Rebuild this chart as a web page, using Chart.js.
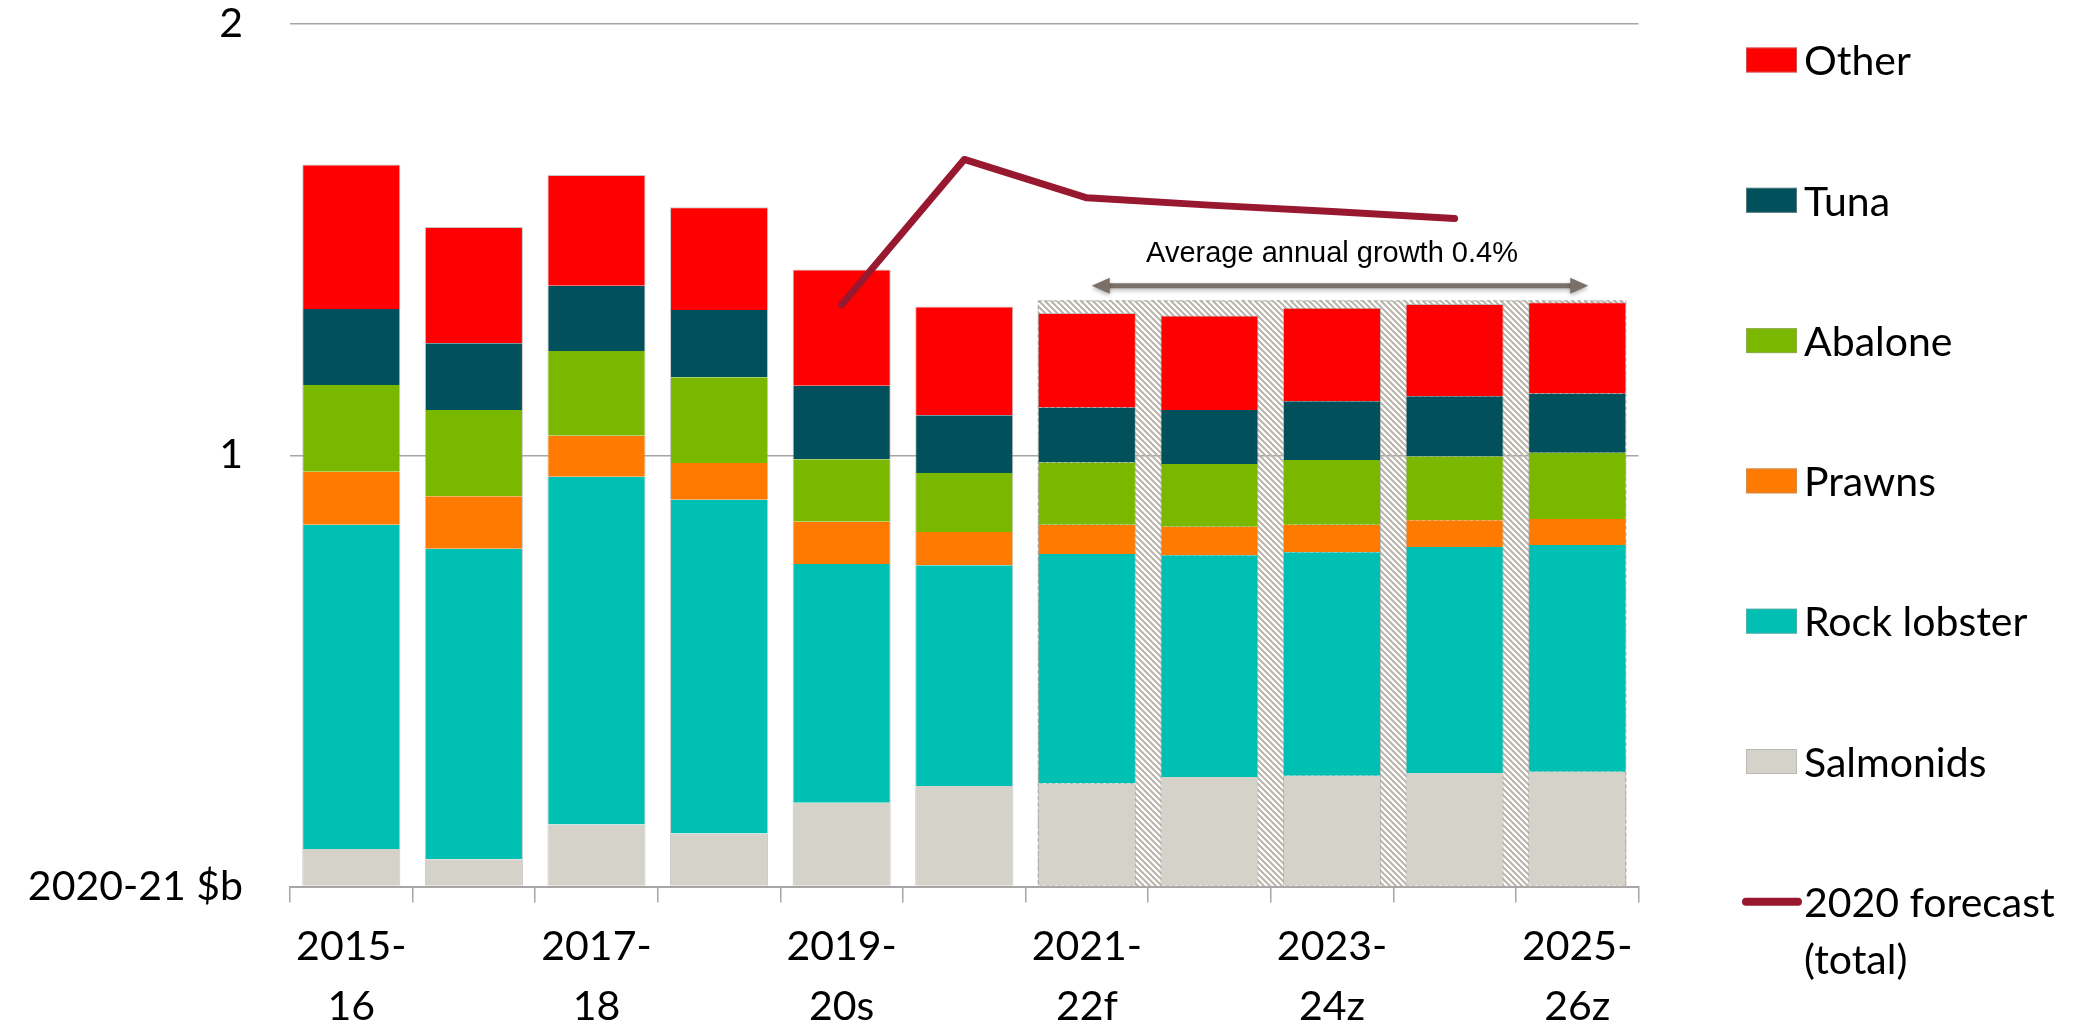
<!DOCTYPE html>
<html>
<head>
<meta charset="utf-8">
<script src="https://cdn.jsdelivr.net/npm/chart.js@4/dist/chart.umd.min.js"></script>
<style>
  html, body { margin: 0; padding: 0; background: #fff; }
  #grafico { display: block; }
</style>
</head>
<body>
<canvas id="grafico" width="2098" height="1026"></canvas>
<script>
// categorias (años fiscales)
const categorias = ['2015-16', '2016-17', '2017-18', '2018-19', '2019-20s', '2020-21s',
                    '2021-22f', '2022-23z', '2023-24z', '2024-25z', '2025-26z'];
// etiquetas del eje x, una si y otra no
const etiquetasX = [['2015-', '16'], '', ['2017-', '18'], '', ['2019-', '20s'], '',
                    ['2021-', '22f'], '', ['2023-', '24z'], '', ['2025-', '26z']];

// valores en 2020-21 $b
const salmonids   = [0.087, 0.063, 0.144, 0.123, 0.194, 0.233, 0.239, 0.254, 0.257, 0.263, 0.266];
const rockLobster = [0.752, 0.720, 0.806, 0.774, 0.554, 0.512, 0.532, 0.514, 0.518, 0.524, 0.526];
const prawns      = [0.123, 0.122, 0.095, 0.085, 0.098, 0.077, 0.068, 0.066, 0.064, 0.062, 0.060];
const abalone     = [0.201, 0.200, 0.197, 0.199, 0.145, 0.137, 0.144, 0.146, 0.150, 0.148, 0.154];
const tuna        = [0.176, 0.155, 0.151, 0.156, 0.170, 0.134, 0.128, 0.125, 0.136, 0.140, 0.137];
const other       = [0.335, 0.269, 0.257, 0.238, 0.270, 0.252, 0.219, 0.219, 0.217, 0.214, 0.212];
const forecast2020 = [null, null, null, null, 1.349, 1.686, 1.597, 1.580, 1.565, 1.549, null];

// marcas del eje y
const ticksY = [0, 1, 2];
const tituloY = '2020-21 $b';

// zona de proyeccion y flecha
const zonaProyeccion = [6, 10];
const topeProyeccion = 1.359;
const flechaDesde = 6.04;
const flechaHasta = 10.09;
const alturaFlecha = 1.393;
const textoCrecimiento = 'Average annual growth 0.4%';
const posTexto = [8, 1.449];

const fuente = 'Lato, "Open Sans", sans-serif';
const colores = {
    salmonids: '#D5D2CA',
    rock: '#00BFB3',
    prawns: '#FF7A00',
    abalone: '#7AB800',
    tuna: '#02505B',
    other: '#FF0000',
    forecast: '#97182F'
};

function barra(label, data, color, arriba) {
    return {
        type: 'bar',
        label: label,
        data: data,
        backgroundColor: color,
        borderColor: 'rgba(160,160,160,0.6)',
        borderWidth: { left: 1, right: 1, top: arriba ? 1 : 0, bottom: 0 },
        borderSkipped: false,
        stack: 'total',
        order: 1,
        categoryPercentage: 1,
        barPercentage: 0.8
    };
}

// patron rayado para los años proyectados
function crearRayado() {
    const c = document.createElement('canvas');
    c.width = 6; c.height = 6;
    const g = c.getContext('2d');
    g.strokeStyle = '#bab5ab';
    g.lineWidth = 2;
    g.beginPath();
    g.moveTo(-1, -1); g.lineTo(7, 7);
    g.moveTo(-1, 5); g.lineTo(1, 7);
    g.moveTo(5, -1); g.lineTo(7, 1);
    g.stroke();
    return c;
}

function pixelX(scale, valor) {
    const base = Math.floor(valor);
    const paso = scale.getPixelForValue(1) - scale.getPixelForValue(0);
    return scale.getPixelForValue(base) + (valor - base) * paso;
}

const pluginProyeccion = {
    id: 'proyeccion',
    beforeDatasetsDraw(chart) {
        const ctx = chart.ctx;
        const meta = chart.getDatasetMeta(0);
        const a = meta.data[zonaProyeccion[0]];
        const b = meta.data[zonaProyeccion[1]];
        const izq = a.x - a.width / 2;
        const der = b.x + b.width / 2;
        const arriba = chart.scales.y.getPixelForValue(topeProyeccion);
        const abajo = chart.scales.y.getPixelForValue(0);
        ctx.save();
        ctx.fillStyle = ctx.createPattern(crearRayado(), 'repeat');
        ctx.fillRect(izq, arriba, der - izq, abajo - arriba);
        ctx.strokeStyle = '#a8a8a8';
        ctx.lineWidth = 1;
        ctx.setLineDash([4, 3]);
        ctx.strokeRect(izq + 0.5, arriba + 0.5, der - izq - 1, abajo - arriba);
        ctx.restore();
    },
    afterDraw(chart) {
        const ctx = chart.ctx;
        const x = chart.scales.x;
        const y = chart.scales.y;
        const x1 = pixelX(x, flechaDesde);
        const x2 = pixelX(x, flechaHasta);
        const yf = y.getPixelForValue(alturaFlecha);
        const punta = 18;
        ctx.save();
        ctx.shadowColor = 'rgba(0,0,0,0.3)';
        ctx.shadowBlur = 4;
        ctx.shadowOffsetY = 2;
        ctx.strokeStyle = '#7B7068';
        ctx.fillStyle = '#7B7068';
        ctx.lineWidth = 5;
        ctx.beginPath();
        ctx.moveTo(x1 + punta - 2, yf);
        ctx.lineTo(x2 - punta + 2, yf);
        ctx.stroke();
        ctx.beginPath();
        ctx.moveTo(x1, yf); ctx.lineTo(x1 + punta, yf - 8); ctx.lineTo(x1 + punta, yf + 8);
        ctx.closePath(); ctx.fill();
        ctx.beginPath();
        ctx.moveTo(x2, yf); ctx.lineTo(x2 - punta, yf - 8); ctx.lineTo(x2 - punta, yf + 8);
        ctx.closePath(); ctx.fill();
        ctx.restore();

        ctx.save();
        ctx.fillStyle = '#000';
        ctx.font = '29px "Liberation Sans", Arial, sans-serif';
        ctx.textAlign = 'center';
        ctx.textBaseline = 'alphabetic';
        ctx.fillText(textoCrecimiento, x.getPixelForValue(posTexto[0]), y.getPixelForValue(posTexto[1]));
        ctx.restore();
    }
};

// leyenda a la derecha, dibujada a mano
const pluginLeyenda = {
    id: 'leyendaDerecha',
    afterDraw(chart) {
        const ctx = chart.ctx;
        const items = chart.data.datasets.slice().reverse();
        const orden = items.filter(d => d.type === 'bar').concat(items.filter(d => d.type === 'line'));
        ctx.save();
        ctx.font = '41px ' + fuente;
        ctx.textBaseline = 'middle';
        ctx.fillStyle = '#000';
        orden.forEach(function(ds, i) {
            const cy = 60 + i * 140.3;
            if (ds.type === 'bar') {
                ctx.fillStyle = ds.backgroundColor;
                ctx.fillRect(1746, cy - 12.5, 51, 25);
                ctx.strokeStyle = 'rgba(160,160,160,0.5)';
                ctx.lineWidth = 1;
                ctx.strokeRect(1746.5, cy - 12, 50, 24);
                ctx.fillStyle = '#000';
                ctx.fillText(ds.label, 1804, cy + 2);
            } else {
                ctx.strokeStyle = ds.borderColor;
                ctx.lineWidth = 8;
                ctx.lineCap = 'round';
                ctx.beginPath();
                ctx.moveTo(1746, cy);
                ctx.lineTo(1798, cy);
                ctx.stroke();
                ctx.fillStyle = '#000';
                ctx.fillText('2020 forecast', 1804, cy + 2);
                ctx.fillText('(total)', 1804, cy + 59);
            }
        });
        ctx.restore();
    }
};

const config = {
    data: {
        labels: categorias,
        datasets: [
            barra('Salmonids', salmonids, colores.salmonids, false),
            barra('Rock lobster', rockLobster, colores.rock, false),
            barra('Prawns', prawns, colores.prawns, false),
            barra('Abalone', abalone, colores.abalone, false),
            barra('Tuna', tuna, colores.tuna, false),
            barra('Other', other, colores.other, true),
            {
                type: 'line',
                label: '2020 forecast (total)',
                data: forecast2020,
                borderColor: colores.forecast,
                backgroundColor: colores.forecast,
                borderWidth: 7,
                borderCapStyle: 'round',
                borderJoinStyle: 'round',
                pointRadius: 0,
                spanGaps: false,
                stack: 'forecast',
                order: 0
            }
        ]
    },
    options: {
        responsive: false,
        animation: false,
        layout: { padding: { left: 0, right: 459.5, top: 24, bottom: 0 } },
        plugins: {
            legend: { display: false },
            tooltip: { enabled: false }
        },
        scales: {
            x: {
                stacked: true,
                offset: true,
                grid: {
                    offset: true,
                    drawOnChartArea: false,
                    drawTicks: true,
                    tickLength: 16,
                    color: '#a6a6a6',
                    lineWidth: 1.5
                },
                border: { display: true, color: '#a6a6a6', width: 2 },
                ticks: {
                    autoSkip: false,
                    maxRotation: 0,
                    padding: 14,
                    color: '#000',
                    font: { family: fuente, size: 41, lineHeight: '60px' },
                    callback: function(valor, i) { return etiquetasX[i]; }
                },
                afterFit: function(scale) { scale.height = 139.5; }
            },
            y: {
                stacked: true,
                min: ticksY[0],
                max: ticksY[ticksY.length - 1],
                grid: { color: '#a6a6a6', lineWidth: 1.5, drawTicks: false },
                border: { display: false },
                afterBuildTicks: function(scale) {
                    scale.ticks = ticksY.map(v => ({ value: v }));
                },
                ticks: {
                    padding: 47,
                    color: '#000',
                    font: { family: fuente, size: 41 },
                    callback: function(valor) { return valor === 0 ? tituloY : String(valor); }
                },
                afterFit: function(scale) {
                    scale.width = 290;
                    scale.paddingTop = 0;
                    scale.paddingBottom = 0;
                }
            }
        }
    },
    plugins: [pluginProyeccion, pluginLeyenda]
};

new Chart(document.getElementById('grafico'), config);
</script>
</body>
</html>
